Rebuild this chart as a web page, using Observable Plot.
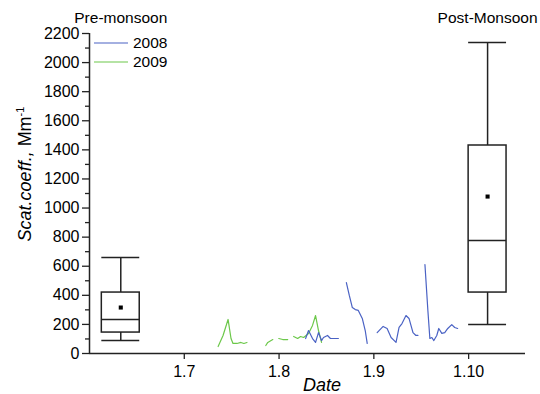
<!DOCTYPE html>
<html><head><meta charset="utf-8">
<script src="https://cdn.jsdelivr.net/npm/d3@7"></script>
<script src="https://cdn.jsdelivr.net/npm/@observablehq/plot@0.6"></script>
<style>
body{margin:0;background:#fff}
#chart svg{font-family:Arial,"Liberation Sans",sans-serif;overflow:visible}
</style>
</head><body><div id="chart"></div>
<script>
// ---- data ----
const xTickValues = [7, 8, 9, 10];
const xTickLabels = ["1.7", "1.8", "1.9", "1.10"];
const yTicksMajor = d3.range(0, 2201, 200);
const yTicksMinor = d3.range(100, 2200, 200);

// 2008 series (null = gap)
const date2008 = [8.280,8.311,8.353,8.385,8.416,8.448,8.469,8.511,8.542,8.573,8.626, 8.67,
  8.710,8.741,8.773,8.804,8.836,8.878,8.909,8.930, 8.98,
  9.035,9.098,9.140,9.182,9.234,9.266,9.297,9.339,9.371,9.413,9.444,9.465, 9.50,
  9.539,9.570,9.591,9.612,9.633,9.664,9.685,9.717,9.748,9.780,9.822,9.853,9.884];
const value2008 = [103,158,103,76,144,89,110,124,103,103,103, null,
  488,399,316,302,296,241,158,69, null,
  144,186,172,110,76,179,206,261,241,144,124,124, null,
  612,296,103,110,89,124,172,138,144,172,199,179,172];

// 2009 series (null = gap)
const date2009 = [7.357,7.409,7.462,7.493,7.514,7.556,7.598,7.629,7.661, 7.76,
  7.860,7.881,7.934, 7.96,
  7.997,8.039,8.091, 8.12,
  8.154,8.196,8.227,8.259,8.311,8.353,8.385,8.416,8.448];
const value2009 = [48,124,234,103,69,69,76,69,76, null,
  55,76,96, null,
  103,96,96, null,
  117,103,117,110,138,193,261,158,76];

// box plot statistics
const boxSeason = ["Pre-monsoon", "Post-Monsoon"];
const boxPos = [6.33, 10.2];
const boxLow = [89, 199];
const boxQ1 = [144, 419];
const boxMedian = [234, 777];
const boxQ3 = [419, 1430];
const boxHigh = [660, 2138];
const boxMean = [316, 1079];

// ---- build tables ----
const s2008 = date2008.map((d, i) => ({date: d, value: value2008[i]}));
const s2009 = date2009.map((d, i) => ({date: d, value: value2009[i]}));
const boxes = boxSeason.map((s, i) => ({season: s, pos: boxPos[i], lo: boxLow[i], q1: boxQ1[i],
  med: boxMedian[i], q3: boxQ3[i], hi: boxHigh[i], mean: boxMean[i]}));
const hw = 0.2;
const blue = "#4a62c4", green = "#6cc84a", ink = "#222";

const chart = Plot.plot({
  width: 540, height: 394,
  marginLeft: 89, marginRight: 15, marginTop: 33, marginBottom: 41,
  style: {fontSize: "16px", fontFamily: "Arial, 'Liberation Sans', sans-serif", color: "#000"},
  x: {domain: [6.0, 10.6]},
  y: {domain: [0, 2200]},
  marks: [
    Plot.axisX({ticks: xTickValues, tickFormat: d => xTickLabels[xTickValues.indexOf(d)],
      tickSize: 6, tickPadding: 6, stroke: ink, strokeWidth: 1.3, fontSize: 16, label: null}),
    Plot.axisY({ticks: yTicksMajor, tickSize: 7, tickPadding: 3, stroke: ink, strokeWidth: 1.3,
      fontSize: 16, label: null, tickFormat: d => String(d)}),
    Plot.axisY({ticks: yTicksMinor, tickSize: 4, stroke: ink, strokeWidth: 1.3, text: null, label: null}),
    Plot.ruleX([6.0], {stroke: ink, strokeWidth: 1.5}),
    Plot.ruleY([0], {stroke: ink, strokeWidth: 1.5}),
    // lines
    Plot.line(s2009, {x: "date", y: "value", stroke: green, strokeWidth: 1.2}),
    Plot.line(s2008, {x: "date", y: "value", stroke: blue, strokeWidth: 1.2}),
    // boxes
    Plot.ruleX(boxes, {x: "pos", y1: "q3", y2: "hi", stroke: ink, strokeWidth: 1.5}),
    Plot.ruleX(boxes, {x: "pos", y1: "lo", y2: "q1", stroke: ink, strokeWidth: 1.5}),
    Plot.ruleY(boxes, {y: "hi", x1: d => d.pos - hw, x2: d => d.pos + hw, stroke: ink, strokeWidth: 1.5}),
    Plot.ruleY(boxes, {y: "lo", x1: d => d.pos - hw, x2: d => d.pos + hw, stroke: ink, strokeWidth: 1.5}),
    Plot.rect(boxes, {x1: d => d.pos - hw, x2: d => d.pos + hw, y1: "q1", y2: "q3", fill: "none", stroke: ink, strokeWidth: 1.5}),
    Plot.ruleY(boxes, {y: "med", x1: d => d.pos - hw, x2: d => d.pos + hw, stroke: ink, strokeWidth: 1.5}),
    Plot.dot(boxes, {x: "pos", y: "mean", symbol: "square", r: 2.3, fill: "#000", stroke: null}),
    // titles
    Plot.text(boxes, {x: "pos", y: () => 2200, text: "season", dy: -15, fontSize: 15.5, fill: "#000"})
  ]
});
document.getElementById("chart").appendChild(chart);

// legend and axis titles
const svg = d3.select(chart);
const legendItems = [["2008", blue], ["2009", green]];
legendItems.forEach(([name, col], i) => {
  const y = 43 + i * 19;
  svg.append("line").attr("x1", 94).attr("x2", 128).attr("y1", y).attr("y2", y)
    .attr("stroke", col).attr("stroke-width", 1.2);
  svg.append("text").attr("x", 133).attr("y", y).attr("dy", "0.35em")
    .attr("text-anchor", "start")
    .attr("font-size", 15.5).attr("fill", "#000").text(name);
});
svg.append("text").attr("x", 322).attr("y", 391).attr("text-anchor", "middle")
  .attr("font-size", 18).attr("font-style", "italic").attr("fill", "#000").text("Date");
const yl = svg.append("text").attr("transform", "translate(31,174) rotate(-90)")
  .attr("text-anchor", "middle").attr("font-size", 18).attr("fill", "#000");
yl.append("tspan").attr("font-style", "italic").text("Scat.coeff.,");
yl.append("tspan").text(" Mm");
yl.append("tspan").attr("font-size", 11).attr("dy", "-0.6em").text("-1");
</script>
</body></html>
